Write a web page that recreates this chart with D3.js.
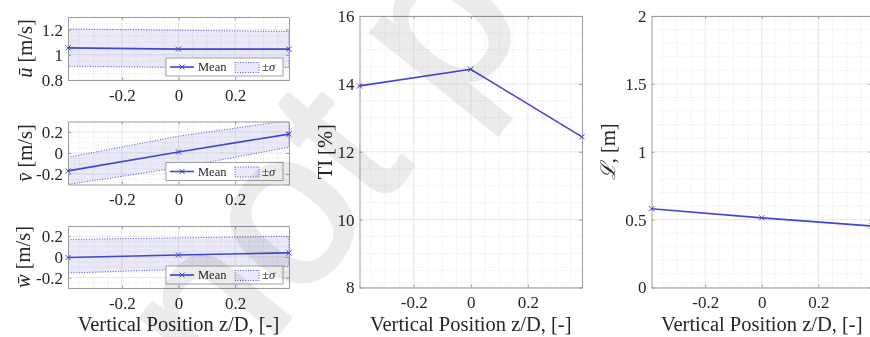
<!DOCTYPE html>
<html><head><meta charset="utf-8">
<script src="https://cdn.jsdelivr.net/npm/d3@7"></script>
<style>html,body{margin:0;background:#fff}svg{display:block}</style>
</head><body>
<svg id="chart" width="870" height="337"></svg>
<script>
// Vertical positions of the three measurement points (z/D)
const zPos = [-0.39, 0, 0.39];
const xTicks = [-0.2, 0, 0.2];

// Mean streamwise velocity and +/- one standard deviation
const uMean = [1.055, 1.045, 1.045];
const uHi   = [1.205, 1.195, 1.185];
const uLo   = [0.91, 0.90, 0.90];
// Mean lateral velocity
const vMean = [-0.17, 0.01, 0.18];
const vHi   = [-0.04, 0.16, 0.31];
const vLo   = [-0.30, -0.14, 0.055];
// Mean vertical velocity
const wMean = [-0.005, 0.02, 0.04];
const wHi   = [0.17, 0.185, 0.20];
const wLo   = [-0.155, -0.12, -0.09];
// Turbulence intensity [%] and integral length scale [m]
const tiVals  = [13.94, 14.43, 12.44];
const lenVals = [0.58, 0.513, 0.453];

const uTicks  = [0.8, 1, 1.2];
const vwTicks = [-0.2, 0, 0.2];
const tiTicks = [8, 10, 12, 14, 16];
const lTicks  = [0, 0.5, 1, 1.5, 2];

const svg = d3.select('#chart');
const SERIF = "'Liberation Serif'";
const BLUE = '#4444d4';
const AXIS = '#9c9c9c';
const TEXT = '#262626';
const xDomain = [-0.39, 0.39];

const txt = (sel, size) => sel.style('font-family', SERIF).style('font-size', size + 'px').attr('fill', TEXT);

function minorVals(domain, step, majors) {
  const out = [];
  const n0 = Math.ceil(domain[0] / step - 1e-9), n1 = Math.floor(domain[1] / step + 1e-9);
  for (let i = n0; i <= n1; i++) {
    const v = +(i * step).toFixed(6);
    if (!majors.some(m => Math.abs(m - v) < 1e-9)) out.push(v);
  }
  return out;
}

let clipId = 0;
function panel(cfg) {
  const x = d3.scaleLinear().domain(xDomain).range([cfg.x0, cfg.x1]);
  const y = d3.scaleLinear().domain(cfg.yDomain).range([cfg.y1, cfg.y0]);
  const g = svg.append('g');
  const id = 'clip' + (clipId++);
  g.append('clipPath').attr('id', id).append('rect')
    .attr('x', cfg.x0).attr('y', cfg.y0).attr('width', cfg.x1 - cfg.x0).attr('height', cfg.y1 - cfg.y0);

  // minor grid
  const gm = g.append('g').attr('stroke', '#e6e6e6').attr('stroke-width', 0.7).attr('stroke-dasharray', '1.5,1.5');
  minorVals(xDomain, 0.05, xTicks).forEach(v => gm.append('line')
    .attr('x1', x(v)).attr('x2', x(v)).attr('y1', cfg.y0).attr('y2', cfg.y1));
  minorVals(cfg.yDomain, cfg.yMinor, cfg.yTicks).forEach(v => gm.append('line')
    .attr('y1', y(v)).attr('y2', y(v)).attr('x1', cfg.x0).attr('x2', cfg.x1));
  // major grid
  const gM = g.append('g').attr('stroke', '#e2e2e2').attr('stroke-width', 0.8);
  xTicks.forEach(v => gM.append('line').attr('x1', x(v)).attr('x2', x(v)).attr('y1', cfg.y0).attr('y2', cfg.y1));
  cfg.yTicks.forEach(v => gM.append('line').attr('y1', y(v)).attr('y2', y(v)).attr('x1', cfg.x0).attr('x2', cfg.x1));

  // +/- sigma band
  if (cfg.hi) {
    const pts = zPos.map((z, i) => [x(z), y(cfg.hi[i])])
      .concat(zPos.map((z, i) => [x(z), y(cfg.lo[i])]).reverse());
    g.append('path').attr('clip-path', `url(#${id})`)
      .attr('d', 'M' + pts.map(p => p.join(',')).join('L') + 'Z')
      .attr('fill', 'rgba(70,70,200,0.12)')
      .attr('stroke', BLUE).attr('stroke-width', 0.9).attr('stroke-dasharray', '1,1.6');
  }

  // axes via d3 axis generators (ticks inside)
  const axB = d3.axisBottom(x).tickValues(xTicks).tickSizeInner(-3).tickSizeOuter(0).tickPadding(8)
    .tickFormat(d => d === 0 ? '0' : d3.format('.1f')(d).replace('−', '-'));
  const axL = d3.axisLeft(y).tickValues(cfg.yTicks).tickSizeInner(-3).tickSizeOuter(0).tickPadding(8)
    .tickFormat(cfg.fmt);
  const axT = d3.axisTop(x).tickValues(xTicks).tickSizeInner(-3).tickSizeOuter(0).tickFormat('');
  const axR = d3.axisRight(y).tickValues(cfg.yTicks).tickSizeInner(-3).tickSizeOuter(0).tickFormat('');
  const style = sel => {
    sel.attr('font-family', null);
    sel.selectAll('path,line').attr('stroke', AXIS);
    sel.selectAll('text').call(txt, 17);
  };
  g.append('g').attr('transform', `translate(0,${cfg.y1})`).call(axB).call(style)
    .selectAll('text').attr('dy', '0.75em');
  g.append('g').attr('transform', `translate(${cfg.x0},0)`).call(axL).call(style)
    .selectAll('text').attr('dx', '3').attr('dy', '0.32em');
  g.append('g').attr('transform', `translate(0,${cfg.y0})`).call(axT).call(style);
  g.append('g').attr('transform', `translate(${cfg.x1},0)`).call(axR).call(style);
  g.selectAll('.domain').attr('stroke-width', 1);

  // mean line with x markers
  const line = d3.line().x((d, i) => x(zPos[i])).y(d => y(d));
  g.append('path').attr('d', line(cfg.vals)).attr('fill', 'none')
    .attr('stroke', BLUE).attr('stroke-width', 1.6);
  cfg.vals.forEach((v, i) => {
    const cx = x(zPos[i]), cy = y(v), r = 2.6;
    g.append('path').attr('d', `M${cx - r},${cy - r}L${cx + r},${cy + r}M${cx - r},${cy + r}L${cx + r},${cy - r}`)
      .attr('stroke', BLUE).attr('stroke-width', 1);
  });

  // legend
  if (cfg.legend) {
    const lx = cfg.x1 - 123, ly = cfg.y1 - 22;
    const lg = g.append('g').attr('transform', `translate(${lx},${ly})`);
    lg.append('rect').attr('width', 117).attr('height', 18).attr('fill', '#fff').attr('stroke', '#8c8c8c').attr('stroke-width', 0.8);
    lg.append('line').attr('x1', 4).attr('x2', 28).attr('y1', 9).attr('y2', 9).attr('stroke', BLUE).attr('stroke-width', 1.6);
    lg.append('path').attr('d', 'M13.5,6.5L18.5,11.5M13.5,11.5L18.5,6.5').attr('stroke', BLUE).attr('stroke-width', 1);
    lg.append('text').attr('x', 32).attr('y', 13.3).call(txt, 12.5).text('Mean');
    lg.append('rect').attr('x', 69).attr('y', 4.5).attr('width', 24).attr('height', 10)
      .attr('fill', 'rgba(70,70,200,0.12)').attr('stroke', BLUE).attr('stroke-width', 0.9).attr('stroke-dasharray', '1,1.6');
    const t = lg.append('text').attr('x', 96).attr('y', 13.3).call(txt, 12.5);
    t.append('tspan').text('±');
    t.append('tspan').style('font-style', 'italic').text('σ');
  }

  // y label
  const yl = svg.append('text').attr('transform', `translate(${cfg.ylx},${(cfg.y0 + cfg.y1) / 2}) rotate(-90)`)
    .attr('text-anchor', 'middle').attr('dy', '0.35em').call(txt, 20.5);
  cfg.ylabel(yl);
  // x label
  if (cfg.xlabel) {
    svg.append('text').attr('x', (cfg.x0 + Math.min(cfg.x1, 870)) / 2 + (cfg.xlOff || 0)).attr('y', 331)
      .attr('text-anchor', 'middle').call(txt, 20.5)
      .text('Vertical Position z/D, [-]');
  }
}

const fmtDec = d => d === 0 ? '0' : String(d).replace('−', '-');
const ital = (sym, unit) => sel => { sel.append('tspan').style('font-style', 'italic').text(sym); sel.append('tspan').text(unit); };

panel({ x0: 68, x1: 289, y0: 17, y1: 80, yDomain: [0.8, 1.3], yTicks: uTicks, yMinor: 0.05, fmt: fmtDec,
  vals: uMean, hi: uHi, lo: uLo, legend: true, ylx: 25, ylabel: ital('ū', ' [m/s]') });
panel({ x0: 68, x1: 289, y0: 121.5, y1: 184.5, yDomain: [-0.3, 0.3], yTicks: vwTicks, yMinor: 0.05, fmt: fmtDec,
  vals: vMean, hi: vHi, lo: vLo, legend: true, ylx: 25, ylabel: ital('v\u0304', ' [m/s]') });
panel({ x0: 68, x1: 289, y0: 226, y1: 288, yDomain: [-0.3, 0.3], yTicks: vwTicks, yMinor: 0.05, fmt: fmtDec,
  vals: wMean, hi: wHi, lo: wLo, legend: true, ylx: 23, ylabel: ital('w\u0304', ' [m/s]'), xlabel: true });
panel({ x0: 359.5, x1: 582, y0: 16, y1: 287.5, yDomain: [8, 16], yTicks: tiTicks, yMinor: 0.5, fmt: d => String(d),
  vals: tiVals, ylx: 325, ylabel: sel => sel.text('TI [%]'), xlabel: true });
panel({ x0: 651.5, x1: 872, y0: 16, y1: 287.5, yDomain: [0, 2], yTicks: lTicks, yMinor: 0.1, fmt: d => String(d),
  vals: lenVals, ylx: 608, ylabel: ital('ℒ', ', [m]'), xlabel: true, xlOff: 1 });

// page watermark, multiplied over the figure
const wm = svg.append('g').attr('transform', 'translate(222,402) rotate(-51)')
  .style('mix-blend-mode', 'multiply')
  .attr('fill', '#ebebeb').attr('stroke', '#ebebeb').attr('stroke-width', 4).attr('stroke-linejoin', 'round');
wm.append('text').style('font-family', "'Liberation Sans'").style('font-size', '220px').text('not peer reviewed');
wm.append('text').attr('x', -62).attr('text-anchor', 'end')
  .style('font-family', "'Liberation Sans'").style('font-size', '220px').text('Preprint');
</script>
</body></html>
